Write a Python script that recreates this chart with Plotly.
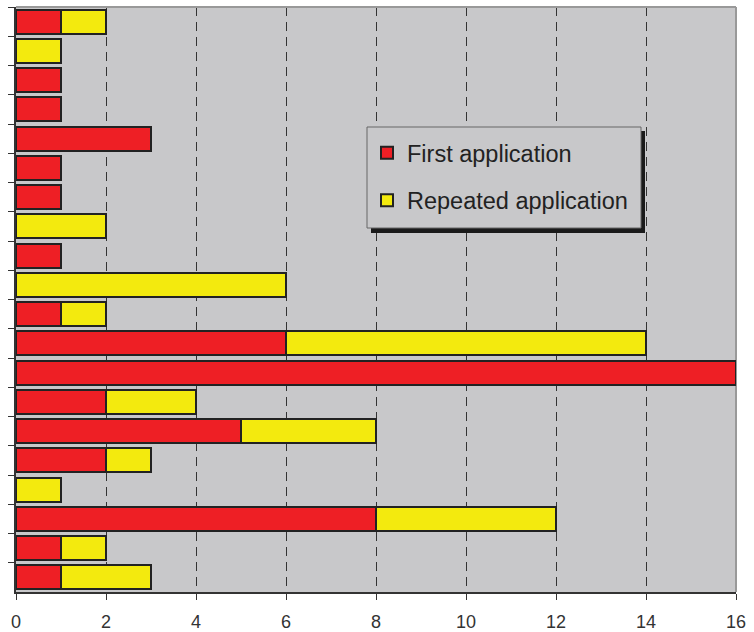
import plotly.graph_objects as go

rows = [str(i) for i in range(1, 21)]
first = [1, 0, 1, 1, 3, 1, 1, 0, 1, 0, 1, 6, 16, 2, 5, 2, 0, 8, 1, 1]
repeated = [1, 1, 0, 0, 0, 0, 0, 2, 0, 6, 1, 8, 0, 2, 3, 1, 1, 4, 1, 2]
xticks = [0, 2, 4, 6, 8, 10, 12, 14, 16]

W, H = 754, 632
ml, mr, mt, mb = 16, 18, 7, 40
pw, ph = W - ml - mr, H - mt - mb

def px_x(p):
    return (p - ml) / pw

def px_y(p):
    return 1 - (p - mt) / ph

fig = go.Figure()
fig.add_trace(go.Bar(y=rows, x=first, orientation="h", name="First application",
                     legendgroup="a",
                     marker=dict(color="#ee1f25", line=dict(color="#222222", width=2))))
fig.add_trace(go.Bar(y=rows, x=repeated, orientation="h", name="Repeated application",
                     legendgroup="b",
                     marker=dict(color="#f3ea0e", line=dict(color="#222222", width=2))))

# legend box shadow and frame
fig.add_shape(type="rect", xref="paper", yref="paper",
              x0=px_x(371), x1=px_x(645), y0=px_y(233), y1=px_y(131),
              fillcolor="#1a1a1a", line=dict(width=0), layer="above")
fig.add_shape(type="rect", xref="paper", yref="paper",
              x0=px_x(367), x1=px_x(641), y0=px_y(228), y1=px_y(127),
              fillcolor="#c8c8ca", line=dict(color="#666666", width=1), layer="above")

fig.update_layout(
    width=W, height=H,
    margin=dict(l=ml, r=mr, t=mt, b=mb, autoexpand=False),
    barmode="stack", bargap=0.18,
    paper_bgcolor="white", plot_bgcolor="#c8c8ca",
    font=dict(family="Liberation Sans, Arial, sans-serif", color="#333333"),
    showlegend=True,
    legend=dict(x=px_x(367), y=px_y(131), xanchor="left", yanchor="top",
                bgcolor="rgba(0,0,0,0)", borderwidth=0,
                font=dict(size=23.5, color="#222222"), traceorder="grouped",
                tracegroupgap=14),
    xaxis=dict(range=[0, 16], tickvals=xticks, ticks="outside", ticklen=6,
               tickcolor="#333333", showline=True, linecolor="#333333", linewidth=1.5,
               showgrid=True, gridcolor="#333333", griddash="9px,6px", gridwidth=1,
               zeroline=False, tickfont=dict(size=18, color="#333333"),
               automargin=False, ticklabelstandoff=7),
    yaxis=dict(type="category", autorange="reversed", showticklabels=False,
               ticks="outside", ticklen=6, tickson="boundaries", tickcolor="#333333",
               showline=True, linecolor="#333333", linewidth=1.5, showgrid=False,
               zeroline=False, automargin=False),
)
fig.add_shape(type="line", xref="paper", yref="paper", x0=0, x1=1, y0=1, y1=1,
              line=dict(color="#999999", width=2), layer="above")
fig.add_shape(type="line", xref="paper", yref="paper", x0=1, x1=1, y0=0, y1=1,
              line=dict(color="#999999", width=2), layer="below")

fig.write_html("out.html", config={"displayModeBar": False},
               post_script="document.body.style.margin='0';")
